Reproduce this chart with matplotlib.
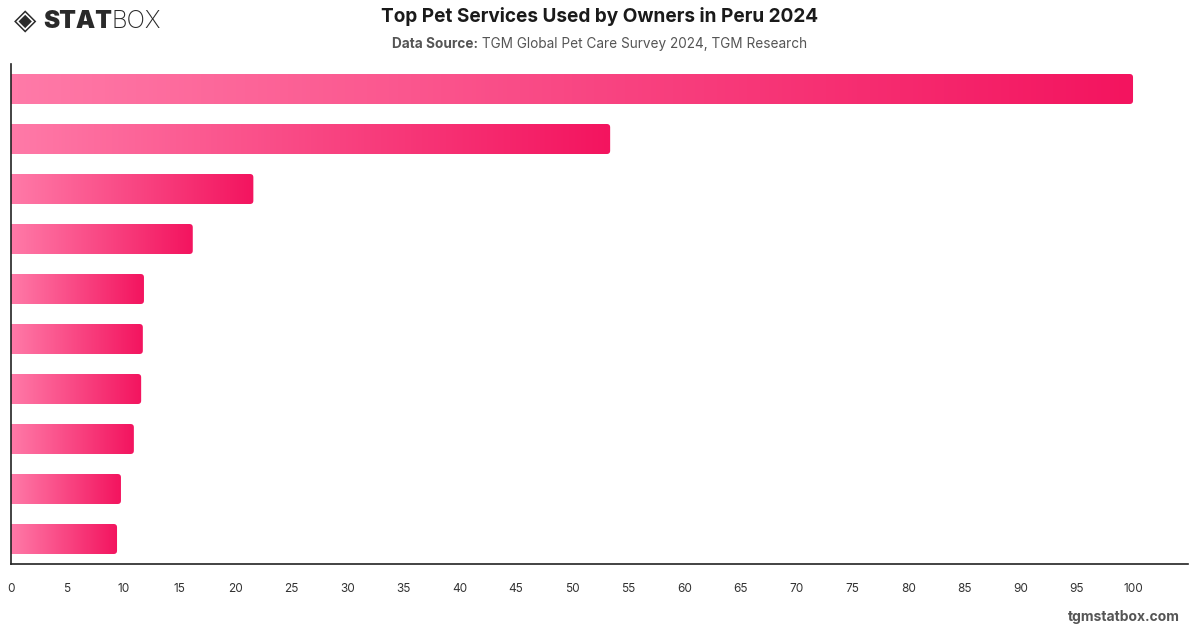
import numpy as np
import matplotlib.pyplot as plt
from matplotlib.patches import FancyBboxPatch
from matplotlib.colors import LinearSegmentedColormap

# -----------------------------
# Data
# -----------------------------
services = ['Service 1', 'Service 2', 'Service 3', 'Service 4', 'Service 5',
            'Service 6', 'Service 7', 'Service 8', 'Service 9', 'Service 10']
values = [100, 53.4, 21.6, 16.2, 11.85, 11.75, 11.6, 10.95, 9.8, 9.45]
x_ticks = list(range(0, 101, 5))

title = 'Top Pet Services Used by Owners in Peru 2024'
source_bold = 'Data Source:'
source_text = ' TGM Global Pet Care Survey 2024, TGM Research'

plt.rcParams['font.family'] = ['Inter', 'DejaVu Sans']

W, H = 1200, 628
fig = plt.figure(figsize=(W / 100, H / 100), dpi=100)
ax = fig.add_axes([11 / W, (H - 564) / H, (1188 - 11) / W, 500 / H])

cmap = LinearSegmentedColormap.from_list('pink', ['#ff7aa8', '#f3145f'])
grad = np.linspace(0, 1, 256).reshape(1, -1)

n = len(values)
bar_h = 0.6
for i, v in enumerate(values):
    y = n - 1 - i
    patch = FancyBboxPatch((-1, y - bar_h / 2), v + 1, bar_h,
                           boxstyle='round,pad=0,rounding_size=0.3',
                           mutation_aspect=0.22,
                           fc='none', ec='none')
    ax.add_patch(patch)
    im = ax.imshow(grad, cmap=cmap, aspect='auto',
                   extent=[0, v, y - bar_h / 2, y + bar_h / 2],
                   interpolation='bicubic', zorder=2)
    im.set_clip_path(patch)

ax.set_xlim(0, 104.9)
ax.set_ylim(-0.5, n - 0.5)
ax.set_yticks([])
ax.set_xticks(x_ticks)
ax.tick_params(axis='x', length=0, pad=14, labelsize=8.5, labelcolor='#333333')
for s in ['top', 'right']:
    ax.spines[s].set_visible(False)
for s in ['left', 'bottom']:
    ax.spines[s].set_color('#222222')
    ax.spines[s].set_linewidth(1.2)

# -----------------------------
# Header texts
# -----------------------------
fig.text(0.5, 1 - 17 / H, title, ha='center', va='center',
         fontsize=13.7, fontweight='bold', color='#1a1a1a')

fig.canvas.draw()
r = fig.canvas.get_renderer()
t1 = fig.text(0, 1 - 44 / H, source_bold, ha='left', va='center',
              fontsize=9.8, fontweight='bold', color='#555555')
t2 = fig.text(0, 1 - 44 / H, source_text, ha='left', va='center',
              fontsize=9.8, color='#555555')
w1 = t1.get_window_extent(r).width
w2 = t2.get_window_extent(r).width
x0 = (W - (w1 + w2)) / 2
t1.set_x(x0 / W)
t2.set_x((x0 + w1) / W)

# logo
fig.text(14 / W, 1 - 21 / H, '\u25c8', ha='left', va='center',
         fontsize=21, color='#2a2a2a', family='DejaVu Sans')
lg1 = fig.text(43 / W, 1 - 21 / H, 'STAT', ha='left', va='center',
               fontsize=17.5, fontweight='black', color='#2a2a2a')
lw = lg1.get_window_extent(r).width
fig.text((43 + lw) / W, 1 - 21 / H, 'BOX', ha='left', va='center',
         fontsize=17.5, fontweight='light', color='#2a2a2a')

fig.text(1180 / W, 1 - 617 / H, 'tgmstatbox.com', ha='right', va='center',
         fontsize=10, fontweight='bold', color='#555555')

plt.savefig('out.png', dpi=100)
